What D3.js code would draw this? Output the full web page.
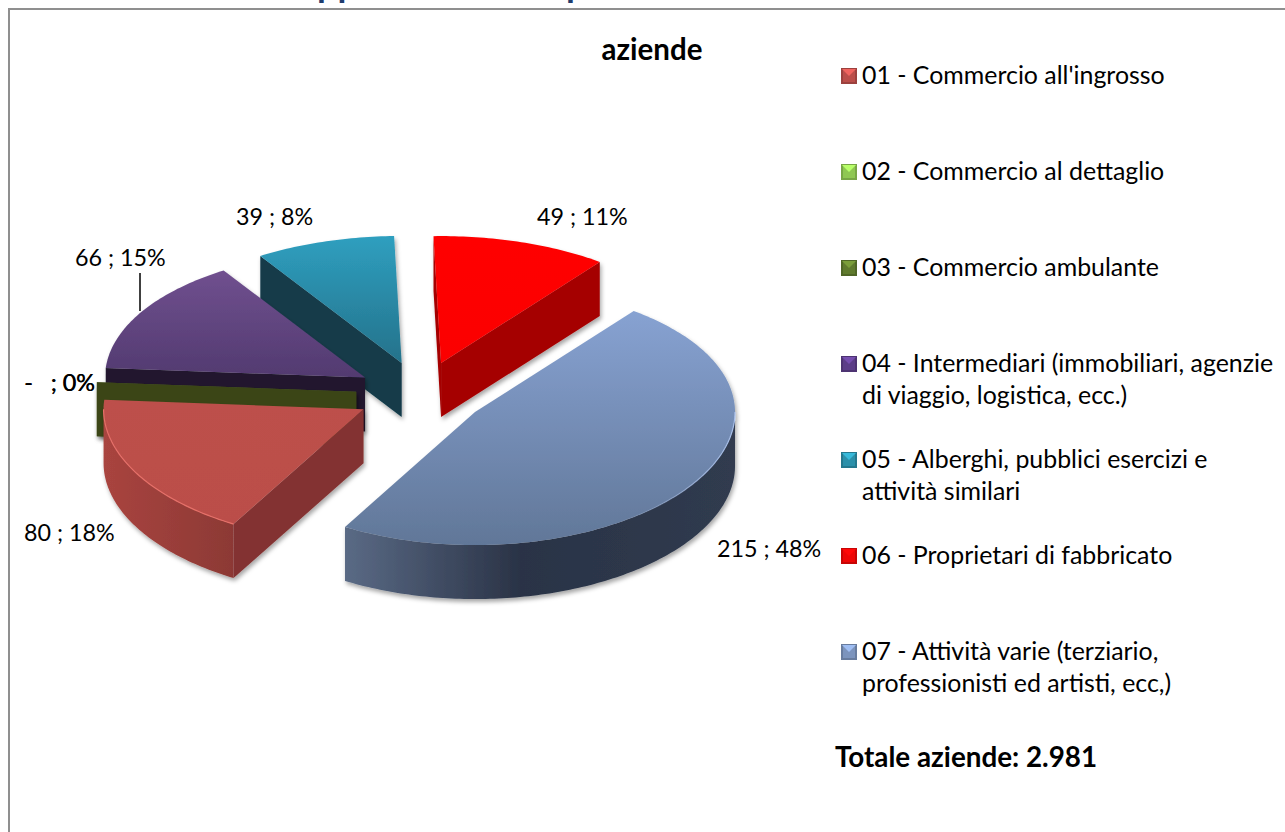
<!DOCTYPE html>
<html>
<head>
<meta charset="utf-8">
<script src="https://cdn.jsdelivr.net/npm/d3@7"></script>
<style>
    html, body { margin: 0; padding: 0; background: #fff; overflow: hidden; }
    text { font-family: Lato, "Open Sans", sans-serif; fill: #000; }
</style>
</head>
<body>
<div id="chart"></div>
<script>
/* Data */
const categories = [
    ["01 - Commercio all'ingrosso"],
    ["02 - Commercio al dettaglio"],
    ["03 - Commercio ambulante"],
    ["04 - Intermediari (immobiliari, agenzie", "di viaggio, logistica, ecc.)"],
    ["05 - Alberghi, pubblici esercizi e", "attività similari"],
    ["06 - Proprietari di fabbricato"],
    ["07 - Attività varie (terziario,", "professionisti ed artisti, ecc,)"]
];
const values = [80, 0, 0, 66, 39, 49, 215];
const percents = [18, 0, 0, 15, 8, 11, 48];
const chartTitle = "aziende";
const totalLabel = "Totale aziende: 2.981";

/* Layout */
const width = 1285, height = 832;
const center = { x: 421, y: 394 };
const radiusX = 260, depth = 54, explode = 65;
const firstAngle = -150 * Math.PI / 180;

// anchor (left edge, baseline) of each data label
const labelAnchors = [[24, 541], [24, 391], [24.5, 391], [75, 266], [236, 225], [537, 225], [717, 557]];

/* Colours, one row per slice */
const topColors = [
    ["#bd504b", "#bb4e49"], ["#9bbb59", "#7f9a48"], ["#76923c", "#5f7530"], ["#70508f", "#523a70"],
    ["#2f9fbf", "#24728b"], ["#ff0000", "#fb0000"], ["#87a2d2", "#617798"]
];
const rimColors = [
    ["#a9443f", "#8c3935"], ["#4f6228", "#4f6228"], ["#3a4418", "#2c3310"], ["#21192e", "#21192e"],
    ["#143c4c", "#10303d"], ["#a50000", "#a50000"], ["#5a6a85", "#2a3346"]
];
const sideColors = ["#833331", "#4f6228", "#3a4418", "#21192e", "#123b4a", "#a50000", "#2a3346"];
const edgeColors = ["#e56f68", "none", "none", "none", "none", "none", "url(#blueEdge)"];
const swatchColors = ["#bb4e4a", "#8fc752", "#5f7a2d", "#5c3d88", "#2b90aa", "#ee0606", "#7c94bd"];

const svg = d3.select("#chart").append("svg")
    .attr("width", width)
    .attr("height", height);
const defs = svg.append("defs");

/* Soft shadow under each slice */
const shadow = defs.append("filter")
    .attr("id", "shadow")
    .attr("x", "-10%").attr("y", "-10%")
    .attr("width", "125%").attr("height", "125%");
shadow.append("feDropShadow")
    .attr("dx", 1.5).attr("dy", 3)
    .attr("stdDeviation", 2)
    .attr("flood-color", "#000")
    .attr("flood-opacity", 0.35);

function addGradient(id, stops, horizontal) {
    const g = defs.append("linearGradient")
        .attr("id", id)
        .attr("x1", 0).attr("y1", 0)
        .attr("x2", horizontal ? 1 : 0).attr("y2", horizontal ? 0 : 1);
    stops.forEach(function (c, i) {
        g.append("stop").attr("offset", stops.length > 2 && i == 1 ? "45%" : (i / (stops.length - 1) * 100) + "%").attr("stop-color", c);
    });
}
values.forEach(function (v, i) {
    addGradient("top" + i, topColors[i], false);
    addGradient("rim" + i, i == 6 ? [rimColors[i][0], rimColors[i][1], "#303b4f"] : rimColors[i], true);
});

// the light edge of the big slice fades out towards its middle
const blueEdge = defs.append("linearGradient")
    .attr("id", "blueEdge")
    .attr("x1", 1).attr("y1", 0).attr("x2", 0).attr("y2", 0);
blueEdge.append("stop").attr("offset", "0%").attr("stop-color", "#a9c0ea");
blueEdge.append("stop").attr("offset", "30%").attr("stop-color", "#a9c0ea").attr("stop-opacity", 0);

/* Frame, open to the right and bottom */
svg.append("path")
    .attr("d", "M9,832V9H1285")
    .attr("fill", "none")
    .attr("stroke", "#8f8f8f")
    .attr("stroke-width", 2);

/* Descenders of the clipped heading above the frame */
const heading = svg.append("g")
    .style("font-weight", 700)
    .style("font-size", "36px");
[["pp", 317], ["p", 566]].forEach(function (d) {
    heading.append("text")
        .attr("x", d[1]).attr("y", -3.5)
        .style("fill", "#1f3d6d")
        .text(d[0]);
});

/* Pie angles: 0 at the top, clockwise */
const arcs = d3.pie().sort(null).startAngle(firstAngle).endAngle(firstAngle + 2 * Math.PI)(values);

// tilted ellipse, the front opens a little wider than the back
function project(a, tip) {
    const c = Math.cos(a);
    return [tip[0] + radiusX * Math.sin(a), tip[1] - (130 - 3 * c) * c];
}
function arcPoints(a0, a1, tip) {
    const n = Math.max(2, Math.ceil((a1 - a0) * 60));
    return d3.range(n + 1).map(function (k) { return project(a0 + (a1 - a0) * k / n, tip); });
}
function frontRanges(a0, a1) {
    let out = [];
    for (let k = -1; k < 3; k++) {
        const lo = Math.max(a0, Math.PI / 2 + 2 * Math.PI * k - 2 * Math.PI);
        const hi = Math.min(a1, 3 * Math.PI / 2 + 2 * Math.PI * k - 2 * Math.PI);
        if (lo < hi) out.push([lo, hi]);
    }
    return out;
}
const line = d3.line();
const closed = d3.line().curve(d3.curveLinearClosed);

function sideWall(group, a, tip, i) {
    const rim = project(a, tip);
    group.append("path")
        .attr("d", closed([tip, rim, [rim[0], rim[1] + depth], [tip[0], tip[1] + depth]]))
        .attr("fill", sideColors[i]);
}

/* Paint the slices back to front */
const paintOrder = [4, 5, 3, 1, 2, 0, 6];
paintOrder.forEach(function (i) {
    const d = arcs[i];
    const mid = (d.startAngle + d.endAngle) / 2;
    const tip = [center.x + explode * Math.sin(mid), center.y - explode / 2 * Math.cos(mid)];
    const group = svg.append("g").attr("filter", "url(#shadow)");

    if (Math.sin(d.startAngle) < 0) sideWall(group, d.startAngle, tip, i);
    if (Math.sin(d.endAngle) > 0) sideWall(group, d.endAngle, tip, i);

    frontRanges(d.startAngle, d.endAngle).forEach(function (r) {
        const pts = arcPoints(r[0], r[1], tip);
        const lower = pts.map(function (p) { return [p[0], p[1] + depth]; }).reverse();
        group.append("path")
            .attr("d", closed(pts.concat(lower)))
            .attr("fill", "url(#rim" + i + ")");
    });

    if (d.endAngle > d.startAngle) {
        group.append("path")
            .attr("d", closed([tip].concat(arcPoints(d.startAngle, d.endAngle, tip))))
            .attr("fill", "url(#top" + i + ")");
        if (edgeColors[i] != "none") {
            frontRanges(d.startAngle, d.endAngle).forEach(function (r) {
                group.append("path")
                    .attr("d", line(arcPoints(r[0], r[1], tip)))
                    .attr("fill", "none")
                    .attr("stroke", edgeColors[i])
                    .attr("stroke-width", 1.2);
            });
        }
    }
});

/* Data labels */
values.forEach(function (v, i) {
    svg.append("text")
        .attr("x", labelAnchors[i][0])
        .attr("y", labelAnchors[i][1])
        .style("font-size", "23.3px")
        .style("white-space", "pre")
        .text((v == 0 ? "-  " : v) + " ; " + percents[i] + "%");
});

/* Leader line of the purple slice */
svg.append("line")
    .attr("x1", 140).attr("y1", 273)
    .attr("x2", 140).attr("y2", 311)
    .attr("stroke", "#000")
    .attr("stroke-width", 1.5);

/* Chart title */
svg.append("text")
    .attr("x", 652).attr("y", 60)
    .attr("text-anchor", "middle")
    .style("font-size", "29.5px")
    .style("font-weight", 700)
    .text(chartTitle);

/* Legend */
const legendY = d3.scaleLinear().domain([0, 1]).range([84, 180]);
const legend = svg.selectAll("g.legend")
    .data(categories)
    .enter().append("g")
    .attr("class", "legend")
    .attr("transform", function (d, i) { return "translate(841," + legendY(i) + ")"; });

// bevelled swatch, 16 px square sitting on the baseline
legend.append("rect")
    .attr("x", 0).attr("y", -16)
    .attr("width", 16).attr("height", 16)
    .attr("fill", function (d, i) { return d3.color(swatchColors[i]).darker(0.5); });
legend.append("path")
    .attr("d", closed([[2, -14], [14, -14], [14, -2], [2, -2]]))
    .attr("fill", function (d, i) { return swatchColors[i]; });
legend.append("path")
    .attr("d", closed([[1, -15], [15, -15], [8, -8]]))
    .attr("fill", function (d, i) { return d3.color(swatchColors[i]).brighter(0.7); });

legend.selectAll("text")
    .data(function (d) { return d; })
    .enter().append("text")
    .attr("x", 21)
    .attr("y", function (d, j) { return j * 32; })
    .style("font-size", "24.9px")
    .text(function (d) { return d; });

svg.append("text")
    .attr("x", 835).attr("y", 767)
    .style("font-size", "27.8px")
    .style("font-weight", 700)
    .text(totalLabel);
</script>
</body>
</html>
